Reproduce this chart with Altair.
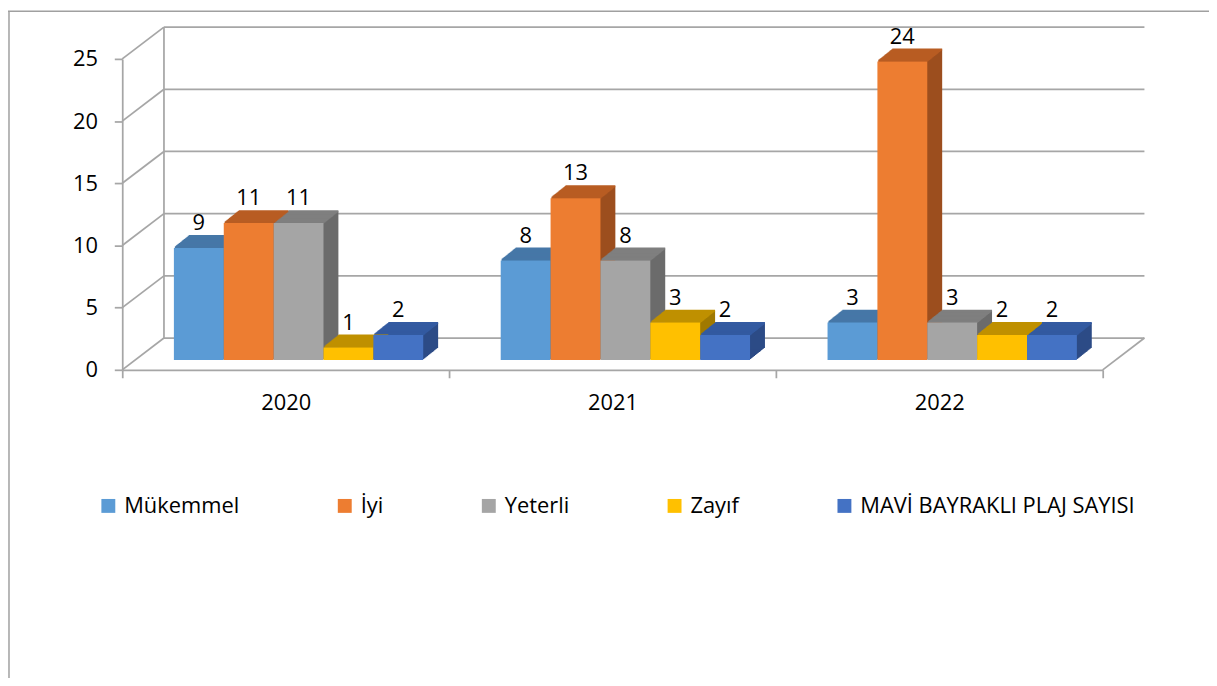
import altair as alt
import pandas as pd

# ---------------- data ----------------
years = ["2020", "2021", "2022"]
series = ["Mükemmel", "İyi", "Yeterli", "Zayıf", "MAVİ BAYRAKLI PLAJ SAYISI"]
mukemmel = [9, 8, 3]
iyi = [11, 13, 24]
yeterli = [11, 8, 3]
zayif = [1, 3, 2]
mavi = [2, 2, 2]
y_ticks = [0, 5, 10, 15, 20, 25]

# ---------------- styles ----------------
front_colors = ["#5B9BD5", "#ED7D31", "#A5A5A5", "#FFC000", "#4472C4"]
top_colors = ["#4677A7", "#B85D23", "#7F7F7F", "#BF9000", "#335AA1"]
side_colors = ["#41709C", "#9C4E1E", "#6B6B6B", "#A07900", "#2C4B86"]

rows = []
for name, vals in zip(series, [mukemmel, iyi, yeterli, zayif, mavi]):
    for yr, v in zip(years, vals):
        rows.append({"year": yr, "series": name, "value": v})
df = pd.DataFrame(rows)
ticks_df = pd.DataFrame({"v": y_ticks})
one_df = pd.DataFrame({"a": [0]})

W, H = 987, 313
FONT = "Open Sans"
FS = 22
GRID = "#A6A6A6"
GW = 1.75
BX, BY = 13, 10     # bar front offset from the front axis
DX, DY = 15, 12     # bar depth
WX, WY = 42, 32     # back wall offset
GROUP = 251         # group width (px)
PAD = 39            # gap between category edge and first bar

yscale = alt.Scale(domain=[0, 25], nice=False, zero=True)
xscale = alt.Scale(domain=years, paddingInner=0, paddingOuter=0)

Y_AXIS = alt.Axis(values=y_ticks, grid=False, tickSize=8, tickColor=GRID,
                  tickWidth=GW, domainColor=GRID, domainWidth=GW,
                  labelFont=FONT, labelFontSize=FS, labelColor="black",
                  labelPadding=17, title=None)
X_AXIS = alt.Axis(labelAngle=0, tickBand="extent", tickSize=8, tickColor=GRID,
                  tickWidth=GW, domainColor=GRID, domainWidth=GW,
                  labelFont=FONT, labelFontSize=FS, labelColor="black",
                  labelPadding=15, title=None)


def x_enc():
    return alt.X("year:N", sort=years, scale=xscale, axis=X_AXIS, title=None)


def xo(shift):
    start = PAD + shift
    return alt.XOffset(
        "series:N", sort=series,
        scale=alt.Scale(type="band", domain=series, range=[start, start + GROUP],
                        paddingInner=0, paddingOuter=0))


def y_val():
    return alt.Y("value:Q", scale=yscale, axis=Y_AXIS, stack=None, title=None)


def y_tick(field="v:Q"):
    return alt.Y(field, scale=yscale, axis=Y_AXIS, title=None)


def color_enc(colors, legend=None):
    return alt.Color("series:N", sort=series,
                     scale=alt.Scale(domain=series, range=colors),
                     legend=legend)


layers = []

# back wall gridlines
layers.append(alt.Chart(ticks_df).mark_rule(color=GRID, strokeWidth=GW, yOffset=-WY).encode(
    y=y_tick(), x=alt.value(WX), x2=alt.value(W + WX)))
# left wall lines
layers.append(alt.Chart(ticks_df).mark_rule(color=GRID, strokeWidth=GW, y2Offset=-WY).encode(
    y=y_tick(), y2="v:Q", x=alt.value(0), x2=alt.value(WX)))
# back-left vertical edge
layers.append(alt.Chart(ticks_df).mark_rule(color=GRID, strokeWidth=GW, yOffset=-WY, y2Offset=-WY).encode(
    y=y_tick("min(v):Q"), y2="max(v):Q", x=alt.value(WX)))
# floor right edge
layers.append(alt.Chart(ticks_df).mark_rule(color=GRID, strokeWidth=GW, y2Offset=-WY).encode(
    y=y_tick("min(v):Q"), y2="min(v):Q", x=alt.value(W), x2=alt.value(W + WX)))

bars = alt.Chart(df)

# side faces (extrusion)
for s in range(1, DX + 1):
    oy = BY + DY * s / DX
    layers.append(bars.mark_bar(yOffset=-oy, y2Offset=-oy).encode(
        x=x_enc(), xOffset=xo(BX + s), y=y_val(), y2=alt.datum(0),
        color=color_enc(side_colors)))

# top faces
for s in range(1, DX + 1):
    oy = BY + DY * s / DX
    layers.append(bars.mark_bar(yOffset=-oy - 1, y2Offset=-oy + 1).encode(
        x=x_enc(), xOffset=xo(BX + s), y=y_val(), y2="value:Q",
        color=color_enc(top_colors)))

# front faces with legend
layers.append(bars.mark_bar(yOffset=-BY, y2Offset=-BY).encode(
    x=x_enc(), xOffset=xo(BX), y=y_val(), y2=alt.datum(0),
    color=color_enc(front_colors, alt.Legend(
        orient="none", legendX=-25, legendY=439, direction="horizontal",
        title=None, symbolType="square", symbolSize=196, symbolStrokeWidth=0,
        labelFont=FONT, labelFontSize=FS, labelColor="black", labelOffset=5,
        columnPadding=95, padding=0, labelLimit=500))))

# value labels
layers.append(bars.mark_text(yOffset=-(BY + 18), baseline="alphabetic", font=FONT,
                             fontSize=FS, color="black").encode(
    x=x_enc(), xOffset=xo(BX), y=y_val(), text="value:Q"))

# frame
layers.append(alt.Chart(one_df).mark_rule(color="#A0A0A0", strokeWidth=1.5).encode(
    x=alt.value(-114), y=alt.value(-48), y2=alt.value(H + 400)))
layers.append(alt.Chart(one_df).mark_rule(color="#A0A0A0", strokeWidth=1.5).encode(
    x=alt.value(-115), x2=alt.value(W + 200), y=alt.value(-48)))

chart = alt.layer(*layers).resolve_scale(
    xOffset="independent", color="independent"
).properties(
    width=W, height=H,
    padding={"left": 115, "top": 49, "right": 107, "bottom": 308},
    autosize="none",
    background="white",
).configure_view(stroke=None)

chart.save("out.html", embed_options={"renderer": "svg", "actions": False})
